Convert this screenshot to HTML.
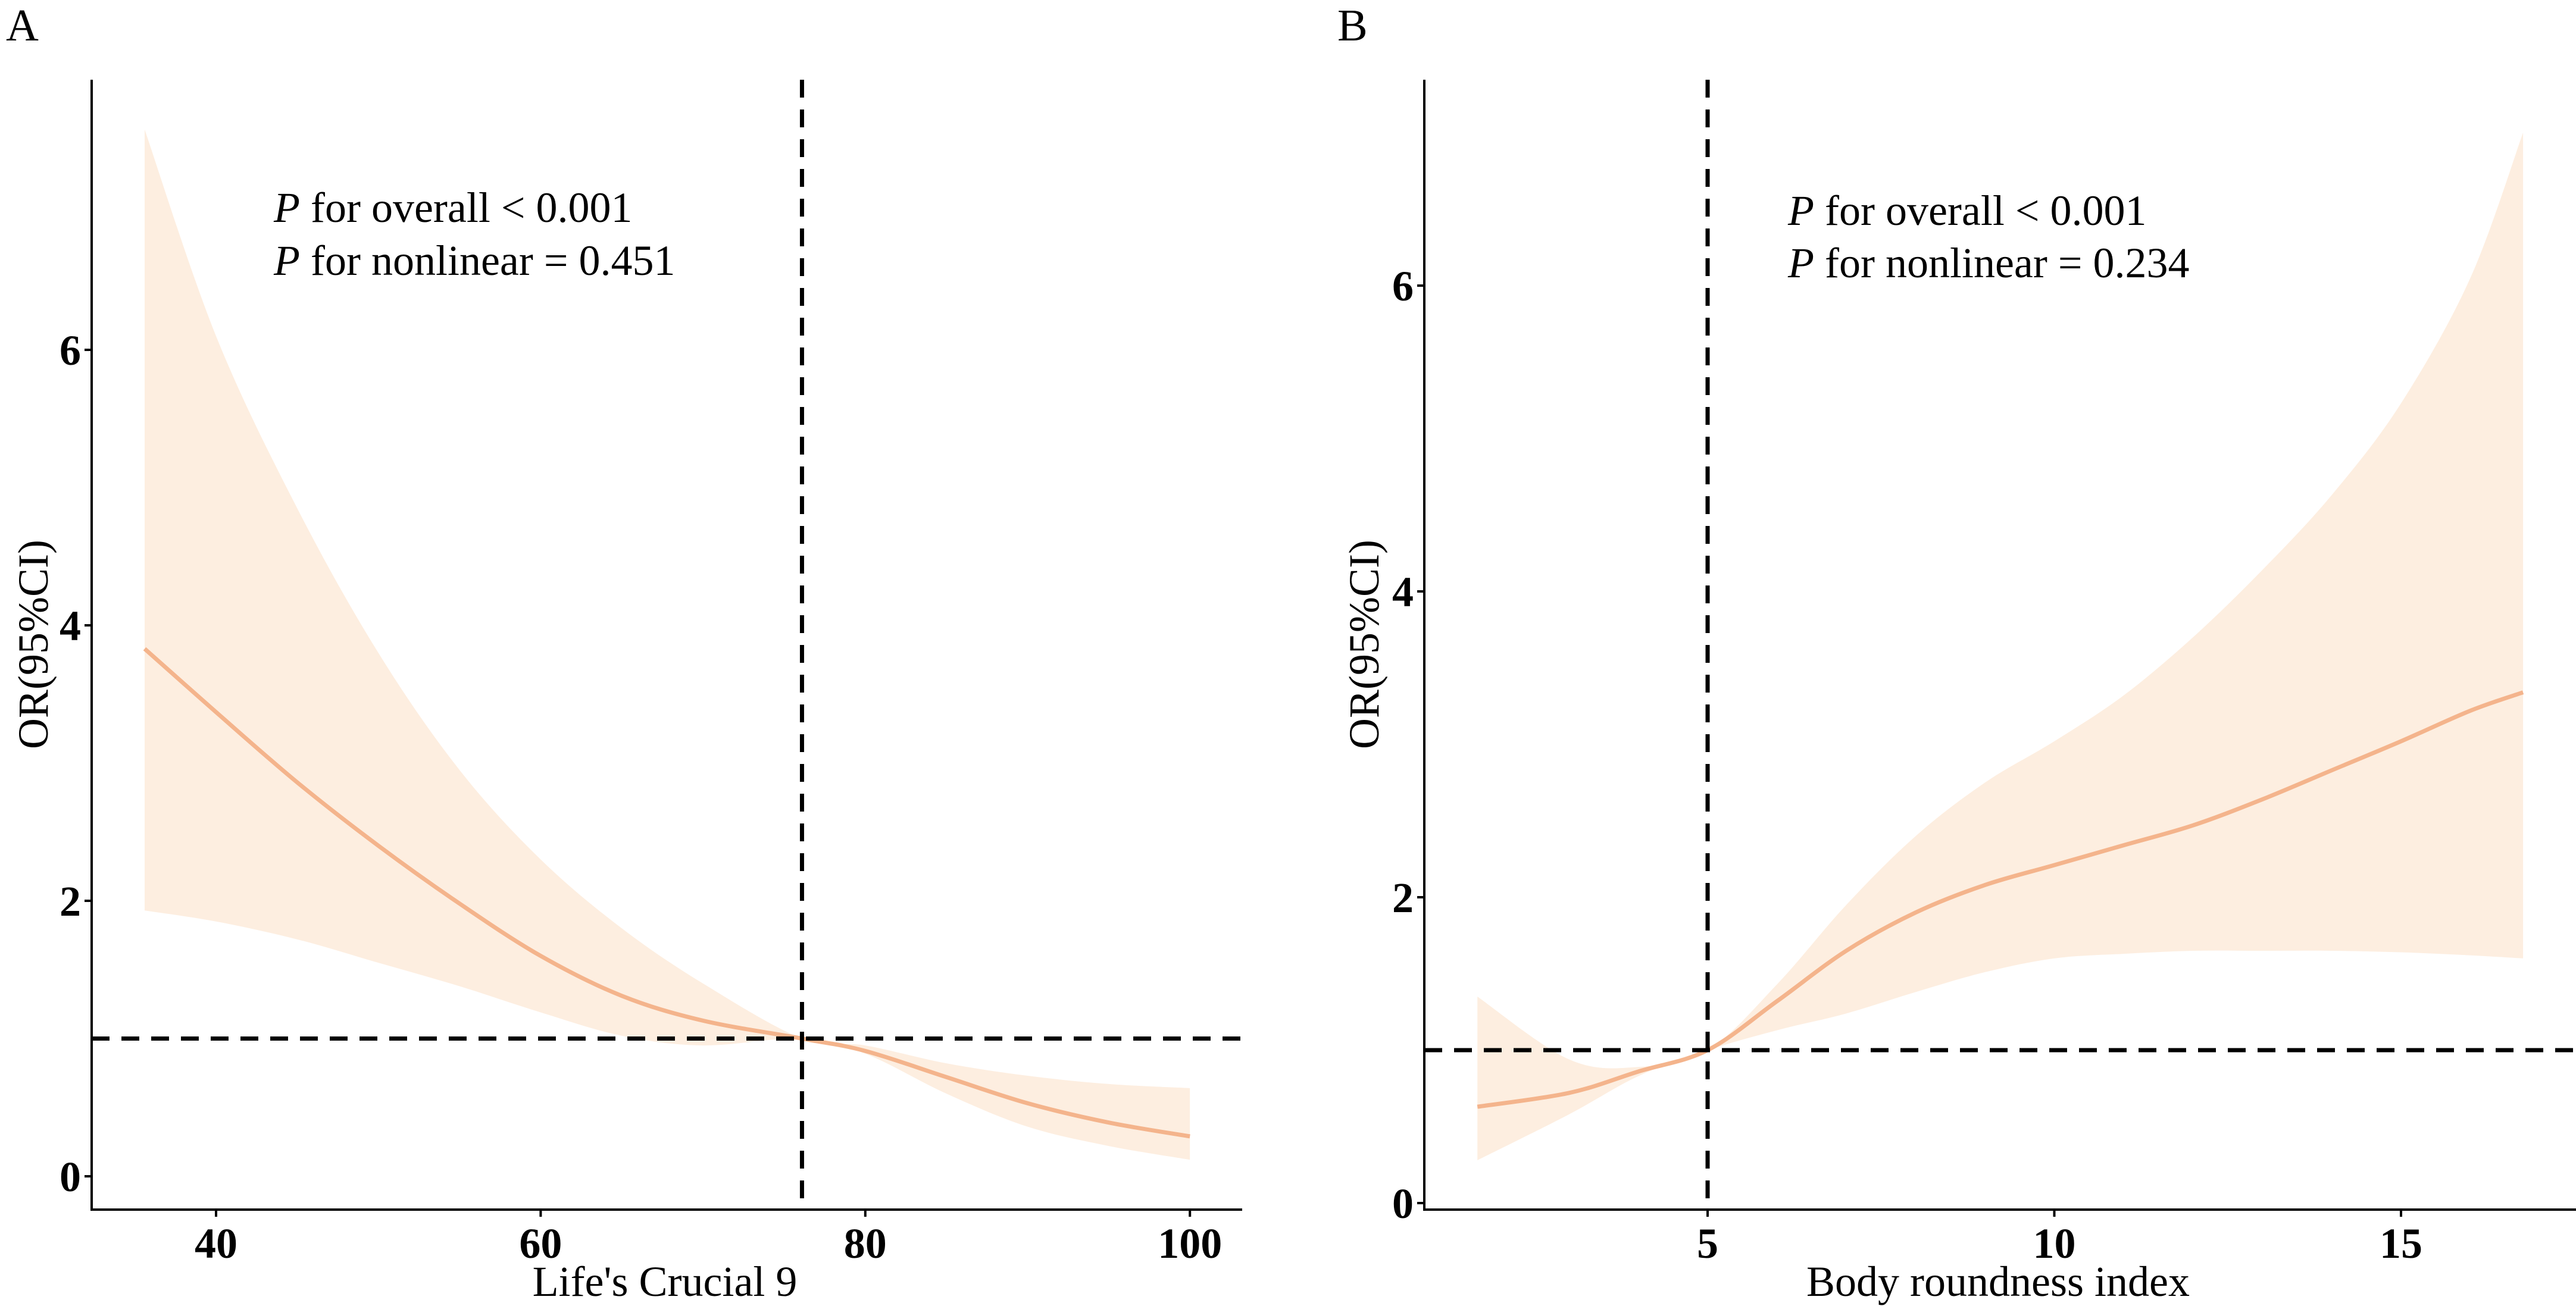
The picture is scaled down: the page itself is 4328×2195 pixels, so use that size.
<!DOCTYPE html>
<html><head><meta charset="utf-8"><style>
html,body{margin:0;padding:0;background:#fff;}
svg{display:block;font-family:"Liberation Serif",serif;}
</style></head><body>
<svg id="fig" width="4328" height="2195" viewBox="0 0 4328 2195" xmlns="http://www.w3.org/2000/svg"></svg>
<script>
// Panel A data
const aX = [35.6, 40, 45, 50, 55, 60, 65, 70, 76.1, 80, 85, 90, 95, 100];
const aFit = [3.83, 3.37, 2.86, 2.4, 1.98, 1.6, 1.31, 1.13, 1.0, 0.91, 0.72, 0.53, 0.39, 0.29];
const aUp = [7.6, 6.1, 4.85, 3.8, 2.95, 2.3, 1.8, 1.4, 1.0, 0.95, 0.82, 0.73, 0.67, 0.64];
const aLo = [1.93, 1.85, 1.72, 1.55, 1.38, 1.19, 1.02, 0.95, 1.0, 0.89, 0.6, 0.36, 0.22, 0.12];
const aXTicks = [40, 60, 80, 100];
const aYTicks = [0, 2, 4, 6];
const aRefX = 76.1, aRefY = 1;
// Panel B data
const bX = [1.68, 3, 4, 5, 6, 7, 8, 9, 10, 11, 12, 13, 14, 15, 16, 16.76];
const bFit = [0.63, 0.72, 0.86, 1.0, 1.32, 1.65, 1.9, 2.08, 2.21, 2.34, 2.47, 2.64, 2.83, 3.02, 3.22, 3.34];
const bUp = [1.35, 0.94, 0.89, 1.0, 1.43, 1.95, 2.4, 2.75, 3.02, 3.32, 3.70, 4.14, 4.63, 5.23, 6.05, 7.0];
const bLo = [0.28, 0.58, 0.83, 1.0, 1.13, 1.24, 1.38, 1.51, 1.60, 1.63, 1.65, 1.65, 1.65, 1.64, 1.62, 1.60];
const bXTicks = [5, 10, 15];
const bYTicks = [0, 2, 4, 6];
const bRefX = 5, bRefY = 1;

const NS = "http://www.w3.org/2000/svg";
const svg = document.getElementById('fig');
const AXIS_Y = 2033, TOP_Y = 134;
function mk(tag, attrs, parent){const e=document.createElementNS(NS,tag);for(const k in attrs)e.setAttribute(k,attrs[k]);(parent||svg).appendChild(e);return e;}
function smooth(pts){let d=`M${pts[0][0]},${pts[0][1]}`;for(let i=0;i<pts.length-1;i++){const p0=pts[i-1]||pts[i],p1=pts[i],p2=pts[i+1],p3=pts[i+2]||p2;d+=` C${p1[0]+(p2[0]-p0[0])/6},${p1[1]+(p2[1]-p0[1])/6} ${p2[0]-(p3[0]-p1[0])/6},${p2[1]-(p3[1]-p1[1])/6} ${p2[0]},${p2[1]}`;}return d;}

function panel(cfg){
  const g = mk('g',{});
  
  
  const sx = v => cfg.x0px + (v - cfg.x0v) * cfg.kx;
  const sy = v => cfg.y0px - v * cfg.ky;
  const up = cfg.X.map((x,i)=>[sx(x),sy(cfg.U[i])]);
  const lo = cfg.X.map((x,i)=>[sx(x),sy(cfg.L[i])]).reverse();
  const rib = mk('path',{d: smooth(up)+' L'+smooth(lo).slice(1)+' Z', fill:'#fdeee0'}, g);
  
  
  const ln = mk('path',{d: smooth(cfg.X.map((x,i)=>[sx(x),sy(cfg.F[i])])), fill:'none', stroke:'#f4b48c','stroke-width':7}, g);
  
  
  const h = mk('line',{x1:cfg.ax, x2:cfg.axR, y1:sy(cfg.refY), y2:sy(cfg.refY), stroke:'#000','stroke-width':7,'stroke-dasharray':'30 20'}, g);
  
  
  const v = mk('line',{x1:sx(cfg.refX), x2:sx(cfg.refX), y1:TOP_Y, y2:AXIS_Y, stroke:'#000','stroke-width':7,'stroke-dasharray':'30 20'}, g);
  
  
  const ya = mk('line',{x1:cfg.ax,x2:cfg.ax,y1:TOP_Y,y2:AXIS_Y+1,stroke:'#000','stroke-width':4}, g);
  
  
  const xa = mk('line',{x1:cfg.ax-2,x2:cfg.axR,y1:AXIS_Y,y2:AXIS_Y,stroke:'#000','stroke-width':4}, g);
  
  
  cfg.xt.forEach(t=>{
    mk('line',{x1:sx(t),x2:sx(t),y1:AXIS_Y,y2:AXIS_Y+12,stroke:'#000','stroke-width':4},g);
    const tx = mk('text',{x:sx(t),y:2114,'text-anchor':'middle','font-size':72,'font-weight':'bold'},g);
    tx.textContent = t;
    
    
  });
  cfg.yt.forEach(t=>{
    mk('line',{x1:cfg.ax-12,x2:cfg.ax,y1:sy(t),y2:sy(t),stroke:'#000','stroke-width':4},g);
    const tx = mk('text',{x:cfg.ax-18,y:sy(t)+25,'text-anchor':'end','font-size':72,'font-weight':'bold'},g);
    tx.textContent = t;
    
    
  });
  return g;
}
panel({name:'panel-a', X:aX,F:aFit,U:aUp,L:aLo, x0v:40, x0px:363, kx:27.27, y0px:1977, ky:231.5, ax:154, axR:2087, xt:aXTicks, yt:aYTicks, refX:aRefX, refY:aRefY});
panel({name:'panel-b', X:bX,F:bFit,U:bUp,L:bLo, x0v:5, x0px:2869, kx:116.5, y0px:2022, ky:257, ax:2393, axR:4328, xt:bXTicks, yt:bYTicks, refX:bRefX, refY:bRefY});
</script>
<script>
(function(){
const NS="http://www.w3.org/2000/svg", svg=document.getElementById('fig');
function t(x,y,txt,name,attrs){const e=document.createElementNS(NS,'text');e.setAttribute('x',x);e.setAttribute('y',y);e.setAttribute('font-size',attrs&&attrs.fs||72);for(const k in (attrs||{}))if(k!=='fs')e.setAttribute(k,attrs[k]);e.innerHTML=txt;


svg.appendChild(e);return e;}
t(10,68,'A','panel-label-a',{fs:76});
t(2247,68,'B','panel-label-b',{fs:76});
t(460,373,'<tspan font-style="italic">P</tspan> for overall &lt; 0.001','p-overall-a');
t(460,462,'<tspan font-style="italic">P</tspan> for nonlinear = 0.451','p-nonlinear-a');
t(3004,378,'<tspan font-style="italic">P</tspan> for overall &lt; 0.001','p-overall-b');
t(3004,466,'<tspan font-style="italic">P</tspan> for nonlinear = 0.234','p-nonlinear-b');
t(1117,2178,"Life's Crucial 9",'x-axis-title-a',{'text-anchor':'middle'});
t(3357,2178,'Body roundness index','x-axis-title-b',{'text-anchor':'middle'});
t(0,0,'OR(95%CI)','y-axis-title-a',{'text-anchor':'middle',transform:'translate(80,1083) rotate(-90)'});
t(0,0,'OR(95%CI)','y-axis-title-b',{'text-anchor':'middle',transform:'translate(2316,1083) rotate(-90)'});
})();
</script>
</body></html>
